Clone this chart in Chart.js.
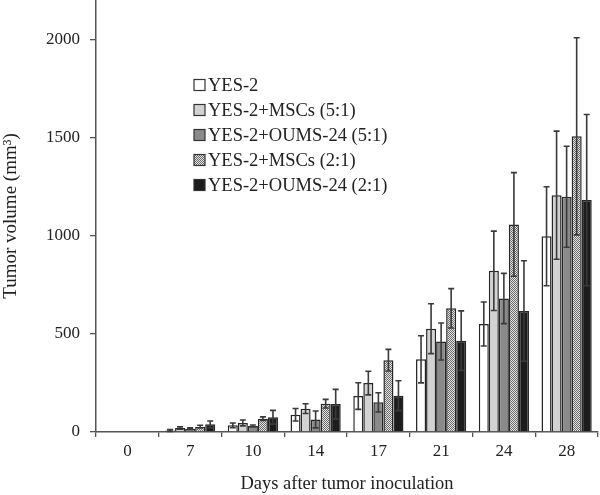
<!DOCTYPE html>
<html>
<head>
<meta charset="utf-8">
<script src="https://cdn.jsdelivr.net/npm/chart.js@4/dist/chart.umd.min.js"></script>
<style>
  html, body { margin: 0; padding: 0; background: #fff; }
  #wrap { width: 600px; height: 495px; position: relative; }
</style>
</head>
<body>
<div id="wrap"><canvas id="myChart" width="600" height="495"></canvas></div>
<script>
// Tumor volume per day (mm3), mean and error
const days = ['0', '7', '10', '14', '17', '21', '24', '28'];
const groupNames = ['YES-2', 'YES-2+MSCs (5:1)', 'YES-2+OUMS-24 (5:1)', 'YES-2+MSCs (2:1)', 'YES-2+OUMS-24 (2:1)'];

const yes2 = [null, 8, 34, 88, 183, 370, 550, 997];
const yes2Err = [0, 5, 12, 32, 68, 120, 112, 252];
const msc51 = [null, 20, 46, 119, 249, 526, 821, 1206];
const msc51Err = [0, 6, 15, 25, 60, 127, 202, 326];
const oums51 = [null, 17, 31, 64, 151, 461, 680, 1198];
const oums51Err = [0, 4, 5, 43, 49, 94, 128, 257];
const msc21 = [null, 27, 68, 144, 366, 630, 1057, 1506];
const msc21Err = [0, 7, 9, 22, 55, 100, 264, 502];
const oums21 = [null, 39, 75, 142, 185, 465, 616, 1181];
const oums21Err = [0, 17, 35, 75, 76, 152, 256, 436];

const yTicks = [0, 500, 1000, 1500, 2000];

const serif = "'Liberation Serif', 'Times New Roman', serif";

// checkered fill for the MSCs (2:1) bars
function makePattern() {
    const c = document.createElement('canvas');
    c.width = 2;
    c.height = 2;
    const g = c.getContext('2d');
    g.fillStyle = '#e4e4e4';
    g.fillRect(0, 0, 2, 2);
    g.fillStyle = '#6a6a6a';
    g.fillRect(0, 0, 1, 1);
    g.fillRect(1, 1, 1, 1);
    return document.getElementById('myChart').getContext('2d').createPattern(c, 'repeat');
}
const checker = makePattern();

const fills = ['#ffffff', '#d2d2d2', '#8a8a8a', checker, '#1c1c1c'];
const values = [yes2, msc51, oums51, msc21, oums21];
const errors = [yes2Err, msc51Err, oums51Err, msc21Err, oums21Err];

// error bars drawn on the library's scales
const errorBars = {
    id: 'errorBars',
    afterDatasetsDraw(chart) {
        const ctx = chart.ctx;
        const yScale = chart.scales.y;
        ctx.save();
        ctx.strokeStyle = '#3a3a3a';
        ctx.lineWidth = 1.6;
        chart.data.datasets.forEach((ds, di) => {
            const meta = chart.getDatasetMeta(di);
            meta.data.forEach((bar, i) => {
                const v = ds.data[i];
                const e = ds.errors[i];
                if (v == null || !e) return;
                const top = yScale.getPixelForValue(v + e);
                const bot = yScale.getPixelForValue(Math.max(v - e, 0));
                const x = bar.x;
                ctx.beginPath();
                ctx.moveTo(x, top);
                ctx.lineTo(x, bot);
                ctx.moveTo(x - 3, top);
                ctx.lineTo(x + 3, top);
                ctx.moveTo(x - 3, bot);
                ctx.lineTo(x + 3, bot);
                ctx.stroke();
            });
        });
        ctx.restore();
    }
};

// legend placed inside the plot, as in the figure
const insideLegend = {
    id: 'insideLegend',
    afterDraw(chart) {
        const ctx = chart.ctx;
        ctx.save();
        ctx.font = '18.5px ' + serif;
        ctx.textBaseline = 'middle';
        chart.data.datasets.forEach((ds, i) => {
            const y = 85 + i * 25;
            ctx.fillStyle = ds.backgroundColor;
            ctx.fillRect(194, y - 5.5, 11, 11);
            ctx.strokeStyle = '#333';
            ctx.lineWidth = 1.2;
            ctx.strokeRect(194, y - 5.5, 11, 11);
            ctx.fillStyle = '#222';
            ctx.fillText(ds.label, 208, y + 1);
        });
        ctx.restore();
    }
};

const ctx = document.getElementById('myChart').getContext('2d');
const myChart = new Chart(ctx, {
    type: 'bar',
    data: {
        labels: days,
        datasets: groupNames.map((name, i) => ({
            label: name,
            data: values[i],
            errors: errors[i],
            backgroundColor: fills[i],
            borderColor: '#262626',
            borderWidth: 1.5,
            categoryPercentage: 0.8,
            barPercentage: 1.0
        }))
    },
    options: {
        responsive: false,
        animation: false,
        layout: { padding: { top: 0, right: 2, left: 0, bottom: 0 } },
        plugins: {
            legend: { display: false },
            tooltip: { enabled: false }
        },
        scales: {
            x: {
                offset: true,
                grid: {
                    offset: true,
                    drawOnChartArea: false,
                    drawTicks: true,
                    tickLength: 5,
                    color: '#555',
                    lineWidth: 1.3
                },
                border: { display: true, color: '#555', width: 1.5 },
                ticks: {
                    color: '#222',
                    font: { family: serif, size: 17 },
                    padding: 4,
                    maxRotation: 0
                },
                title: {
                    display: true,
                    text: 'Days after tumor inoculation',
                    color: '#222',
                    font: { family: serif, size: 18.5 },
                    padding: { top: 9, bottom: 0 }
                },
                afterFit(scale) {
                    scale.height = 63;
                    scale.paddingLeft = 0;
                    scale.paddingRight = 0;
                }
            },
            y: {
                min: 0,
                max: 2200,
                afterBuildTicks(scale) {
                    scale.ticks = yTicks.map(v => ({ value: v }));
                },
                grid: {
                    drawOnChartArea: false,
                    drawTicks: true,
                    tickLength: 6,
                    color: '#555',
                    lineWidth: 1.3
                },
                border: { display: true, color: '#555', width: 1.5 },
                ticks: {
                    color: '#222',
                    font: { family: serif, size: 17 },
                    padding: 10,
                    callback: v => String(v)
                },
                title: {
                    display: true,
                    text: 'Tumor volume (mm³)',
                    color: '#222',
                    font: { family: serif, size: 19 },
                    padding: { top: 0, bottom: 0 }
                },
                afterFit(scale) {
                    scale.width = 96;
                    scale.paddingTop = 0;
                    scale.paddingBottom = 0;
                }
            }
        }
    },
    plugins: [errorBars, insideLegend]
});
</script>
</body>
</html>
